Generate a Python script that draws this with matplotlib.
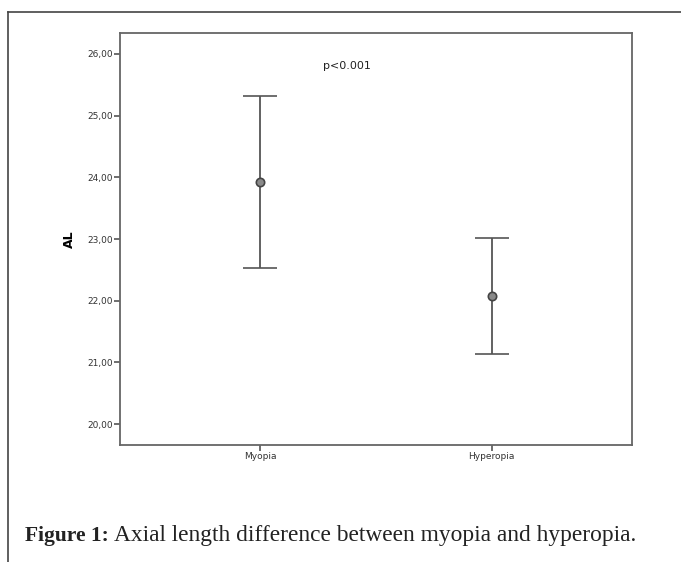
import matplotlib
matplotlib.use('Agg')
import matplotlib.pyplot as plt
from matplotlib.lines import Line2D

# data
groups = ['Myopia', 'Hyperopia']
means = [23.93, 22.08]
upper = [25.32, 23.02]
lower = [22.53, 21.14]
yticks = [20, 21, 22, 23, 24, 25, 26]
yticklabels = ['20,00', '21,00', '22,00', '23,00', '24,00', '25,00', '26,00']

fig = plt.figure(figsize=(6.81, 5.62), dpi=100)
W, H = 681, 562
ax = fig.add_axes([120 / W, 1 - 445 / H, 512 / W, 412 / H])

x = list(range(len(groups)))
err = [[m - l for m, l in zip(means, lower)], [u - m for m, u in zip(means, upper)]]
ax.errorbar(x, means, yerr=err, fmt='o', color='#555555', ecolor='#555555',
            elinewidth=1.3, capsize=12.5, capthick=1.3,
            markersize=6, markerfacecolor='#8a8a8a', markeredgecolor='#444444',
            markeredgewidth=1.2)

ax.set_xlim(-0.604, 1.606)
ax.set_ylim(19.66, 26.34)
ax.set_xticks(x)
ax.set_xticklabels(groups, fontsize=6.5, color='#333333')
ax.set_yticks(yticks)
ax.set_yticklabels(yticklabels, fontsize=6.5, color='#333333')
ax.tick_params(direction='out', length=4, width=1.2, color='#555555', pad=1)
for s in ax.spines.values():
    s.set_color('#666666')
    s.set_linewidth(1.3)
ax.set_ylabel('AL', fontsize=9, fontweight='bold', labelpad=8)
ax.text(0.444, 0.92, 'p<0.001', transform=ax.transAxes, fontsize=8,
        ha='center', va='center', color='#222222')

# outer border of the figure panel
fig.add_artist(Line2D([8 / W, 8 / W], [0, 1 - 12 / H], color='#444444', lw=1.2))
fig.add_artist(Line2D([8 / W, 1], [1 - 12 / H, 1 - 12 / H], color='#444444', lw=1.2))

t1 = fig.text(25 / W, 1 - 536 / H, 'Figure 1:', fontsize=15.5, fontweight='bold',
              family='Liberation Serif', va='center', color='#222222')
fig.canvas.draw()
bb = t1.get_window_extent()
fig.text((bb.x1 + 5) / W, 1 - 536 / H, 'Axial length difference between myopia and hyperopia.',
         fontsize=16.8, family='Liberation Serif', va='center', color='#222222')

fig.savefig('out.png', dpi=100)
